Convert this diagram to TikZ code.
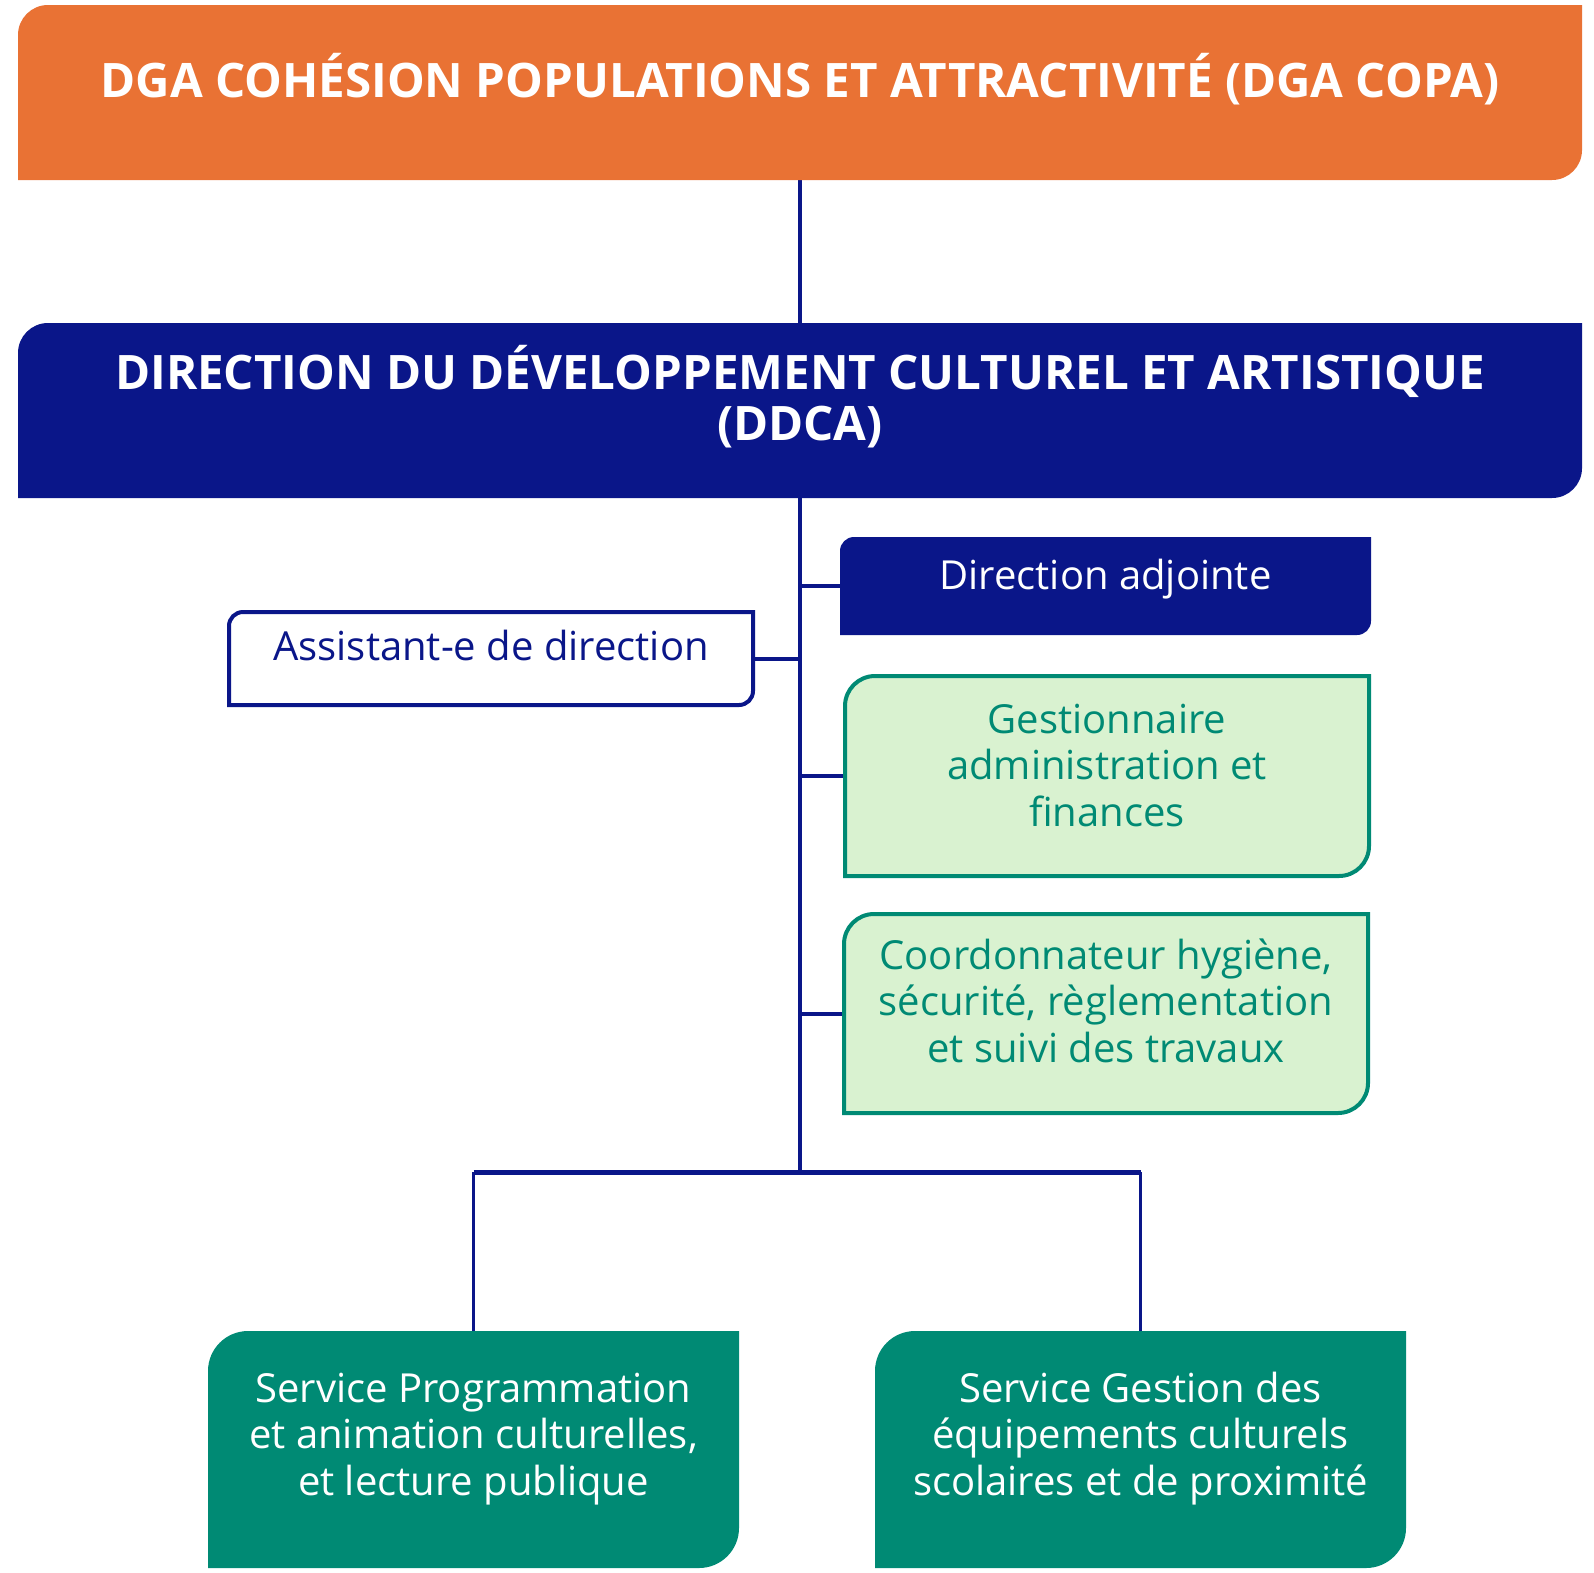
\documentclass[tikz,border=0pt]{standalone}
\usepackage{fontspec}
\setmainfont{Open Sans}

\definecolor{copaorange}{RGB}{233,114,52}
\definecolor{ddcablue}{RGB}{10,22,137}
\definecolor{serviceteal}{RGB}{0,138,116}
\definecolor{missiongreen}{RGB}{217,242,208}

\begin{document}
\begin{tikzpicture}
[x=1pt,y=-1pt,
 every node/.style={inner sep=0pt,outer sep=0pt},
 box/.style={rectangle,draw=none,fill=none},
 orangebox/.style={fill=copaorange},
 bluebox/.style={fill=ddcablue},
 whitebox/.style={draw=ddcablue,line width=4pt,fill=white},
 greenbox/.style={draw=serviceteal,line width=4pt,fill=missiongreen},
 tealbox/.style={fill=serviceteal},
 title/.style={font=\fontsize{47.5}{51}\selectfont\bfseries,white,align=center,anchor=base},
 txt/.style={font=\fontsize{40}{46.5}\selectfont,align=center,anchor=base},
 link/.style={ddcablue,line width=4pt},
 drop/.style={ddcablue,line width=3pt},
 bus/.style={ddcablue,line width=5pt}]

\useasboundingbox (0,0) rectangle (1594,1572);

\node[box,minimum width=1564pt,minimum height=175pt] (dga)   at (800,92.5)    {};
\node[box,minimum width=1564pt,minimum height=175pt] (ddca)  at (800,410.5)   {};
\node[box,minimum width=531pt, minimum height=98pt]  (adj)   at (1105.5,586)  {};
\node[box,minimum width=524pt, minimum height=93pt]  (asst)  at (491,658.5)   {};
\node[box,minimum width=524pt, minimum height=200pt] (gest)  at (1107,776)    {};
\node[box,minimum width=524pt, minimum height=199pt] (coord) at (1106,1013.5) {};
\node[box,minimum width=531pt, minimum height=237pt] (servP) at (473.5,1449.5) {};
\node[box,minimum width=531pt, minimum height=237pt] (servG) at (1140.5,1449.5) {};
\coordinate (bus) at (800,1172);

% connectors
\draw[link] (dga.south) -- (ddca.north);
\draw[link] (ddca.south) -- (bus);
\draw[link] (asst.east) -- (asst.east -| bus);
\draw[link] (adj.west) -- (adj.west -| bus);
\draw[link] (gest.west) -- (gest.west -| bus);
\draw[link] (coord.west) -- (coord.west -| bus);
\draw[bus] (servP.north |- bus) -- (servG.north |- bus);
\draw[drop] (servP.north |- bus) -- (servP.north);
\draw[drop] (servG.north |- bus) -- (servG.north);

% frames: round top left and bottom right only
\foreach \n/\r/\s in {dga/30/orangebox,ddca/30/bluebox,adj/14/bluebox,asst/14/whitebox,
                      gest/30/greenbox,coord/30/greenbox,servP/40/tealbox,servG/40/tealbox}
  \path[\s] (\n.south west) [rounded corners=\r pt] -- (\n.north west)
            [sharp corners] -- (\n.north east) [rounded corners=\r pt] -- (\n.south east)
            [sharp corners] -- cycle;

% texts (base = baseline of the last line)
\node[title] (dgaT)  at (800,97)  {DGA COHÉSION POPULATIONS ET ATTRACTIVITÉ (DGA COPA)};
\node[title] (ddcaT) at (800,440) {DIRECTION DU DÉVELOPPEMENT CULTUREL ET ARTISTIQUE\\(DDCA)};
\node[txt,white]       (adjT)   at (1105.5,589) {Direction adjointe};
\node[txt,ddcablue]    (asstT)  at (491,660)    {Assistant-e de direction};
\node[txt,serviceteal] (gestT)  at (1107,826)   {Gestionnaire\\administration et\\finances};
\node[txt,serviceteal] (coordT) at (1106,1062)  {Coordonnateur hygiène,\\sécurité, règlementation\\et suivi des travaux};
\node[txt,white]       (servPT) at (473.5,1495) {Service Programmation\\et animation culturelles,\\et lecture publique};
\node[txt,white]       (servGT) at (1140.5,1495) {Service Gestion des\\équipements culturels\\scolaires et de proximité};
\end{tikzpicture}
\end{document}
